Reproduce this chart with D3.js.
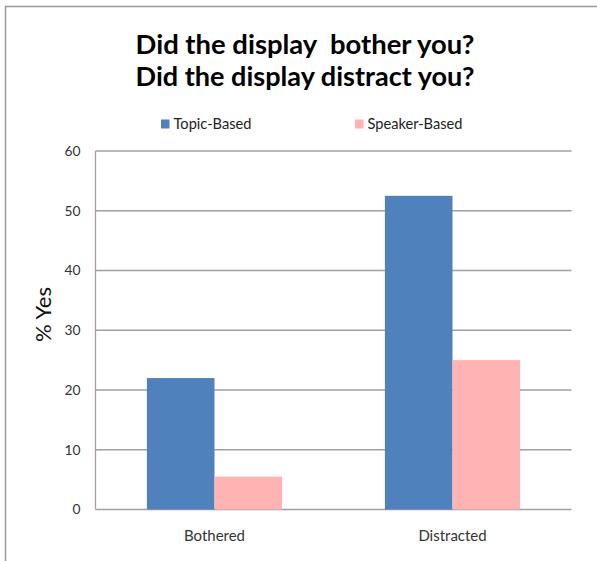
<!DOCTYPE html>
<html>
<head>
<meta charset="utf-8">
<script src="https://cdn.jsdelivr.net/npm/d3@7"></script>
<style>
  html, body { margin: 0; padding: 0; background: #fff; }
  svg { display: block; }
</style>
</head>
<body>
<div id="chart"></div>
<script>
// ---- data ----
const categories = ["Bothered", "Distracted"];
const seriesNames = ["Topic-Based", "Speaker-Based"];
const topicBased = [22, 52.5];
const speakerBased = [5.5, 25];
const yTicks = [0, 10, 20, 30, 40, 50, 60];
const titleLines = ["Did the display  bother you?", "Did the display distract you?"];
const yLabel = "% Yes";

// ---- layout ----
const W = 597, H = 561;
const plot = { left: 95.5, right: 571.5, top: 151, bottom: 509.5 };
const colors = ["#4F81BD", "#FFB3B3"];
const font = "Lato, 'Open Sans', 'DejaVu Sans', sans-serif";

const svg = d3.select("#chart").append("svg")
  .attr("width", W).attr("height", H);

// scale a text's font-size so its rendered width matches target
function fitSize(text, base, target, weight) {
  const t = svg.append("text").attr("font-family", font)
    .attr("font-weight", weight || "normal").attr("font-size", base)
    .style("white-space", "pre").text(text);
  const w = t.node().getComputedTextLength();
  t.remove();
  return base * target / w;
}

// outer frame (left and top edges visible)
svg.append("path")
  .attr("d", `M5.5,${H} V6.5 H${W}`)
  .attr("fill", "none").attr("stroke", "#9a9a9a").attr("stroke-width", 1.5);

const values = categories.map((c, i) => ({ cat: c, vals: [topicBased[i], speakerBased[i]] }));

const x0 = d3.scaleBand().domain(categories)
  .range([plot.left, plot.right]).paddingInner(0.432).paddingOuter(0.216);
const x1 = d3.scaleBand().domain(seriesNames).range([0, x0.bandwidth()]).padding(0);
const y = d3.scaleLinear().domain([0, 60]).range([plot.bottom, plot.top]);

// gridlines
svg.append("g").selectAll("line").data(yTicks).join("line")
  .attr("x1", plot.left).attr("x2", plot.right)
  .attr("y1", d => y(d)).attr("y2", d => y(d))
  .attr("stroke", "#a0a0a0").attr("stroke-width", 1.3);

// bars
const g = svg.append("g").selectAll("g").data(values).join("g")
  .attr("transform", d => `translate(${x0(d.cat)},0)`);
g.selectAll("rect").data(d => d.vals.map((v, i) => ({ v, s: seriesNames[i], i })))
  .join("rect")
  .attr("x", d => x1(d.s))
  .attr("width", x1.bandwidth())
  .attr("y", d => y(d.v))
  .attr("height", d => y(0) - y(d.v))
  .attr("fill", d => colors[d.i]);

// y axis line
svg.append("line")
  .attr("x1", plot.left).attr("x2", plot.left)
  .attr("y1", plot.top).attr("y2", plot.bottom)
  .attr("stroke", "#a0a0a0").attr("stroke-width", 1.3);

// y axis via d3 axis (labels only)
const tickSize = fitSize("60", 12, 16);
const yAxis = svg.append("g")
  .attr("transform", `translate(${plot.left},0)`)
  .call(d3.axisLeft(y).tickValues(yTicks).tickSize(0).tickPadding(15));
yAxis.select(".domain").remove();
yAxis.selectAll("text")
  .attr("font-family", font).attr("font-size", tickSize).attr("fill", "#333");

// x axis labels
const xSize = fitSize("Bothered", 12, 61);
const xAxis = svg.append("g")
  .attr("transform", `translate(0,${plot.bottom})`)
  .call(d3.axisBottom(x0).tickSize(0).tickPadding(21));
xAxis.select(".domain").remove();
xAxis.selectAll("text")
  .attr("font-family", font).attr("font-size", xSize).attr("fill", "#333");

// y label
const yLabSize = fitSize(yLabel, 20, 55);
svg.append("text")
  .attr("transform", `translate(51,314.5) rotate(-90)`)
  .attr("text-anchor", "middle")
  .attr("font-family", font).attr("font-size", yLabSize).attr("fill", "#111")
  .text(yLabel);

// title
const titleY = [54, 86];
titleLines.forEach((t, i) => {
  const s = fitSize(t, 24, 339, "bold");
  svg.append("text")
    .attr("x", 305).attr("y", titleY[i])
    .attr("text-anchor", "middle")
    .style("white-space", "pre")
    .attr("font-family", font).attr("font-weight", "bold")
    .attr("font-size", s).attr("fill", "#000")
    .text(t);
});

// legend
const legendX = [161, 355];
const legSize = fitSize("Topic-Based", 12, 78);
seriesNames.forEach((s, i) => {
  svg.append("rect")
    .attr("x", legendX[i]).attr("y", 119.5)
    .attr("width", 8.5).attr("height", 9)
    .attr("fill", colors[i]);
  svg.append("text")
    .attr("x", legendX[i] + 12.5).attr("y", 128.5)
    .attr("font-family", font).attr("font-size", legSize).attr("fill", "#222")
    .text(s);
});
</script>
</body>
</html>
